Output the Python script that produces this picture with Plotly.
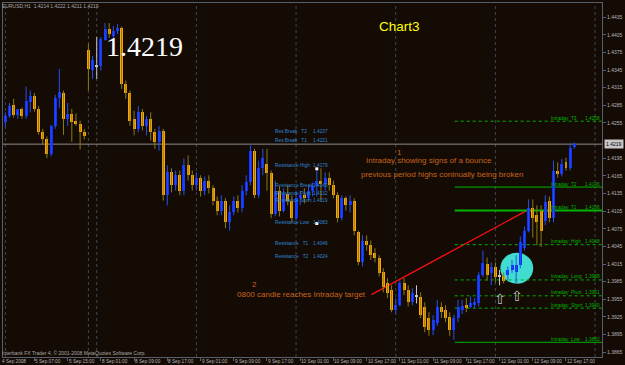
import plotly.graph_objects as go

# ---------------- data ----------------
time_label_bars = [0, 8, 16, 24, 32, 40, 48, 56, 64, 72, 80, 88, 96, 104, 112, 120, 128, 136]
time_labels = ["4 Sep 2008", "5 Sep 07:00", "5 Sep 15:00", "8 Sep 01:00", "8 Sep 09:00",
               "8 Sep 17:00", "9 Sep 01:00", "9 Sep 09:00", "9 Sep 17:00", "10 Sep 01:00",
               "10 Sep 09:00", "10 Sep 17:00", "11 Sep 01:00", "11 Sep 09:00", "11 Sep 17:00",
               "12 Sep 01:00", "12 Sep 09:00", "12 Sep 17:00"]
price_ticks = [1.3865, 1.3895, 1.3925, 1.3955, 1.3985, 1.4015, 1.4045, 1.4075, 1.4105,
               1.4135, 1.4165, 1.4195, 1.4255, 1.4285, 1.4315, 1.4345, 1.4375, 1.4405, 1.4435]
day_separator_bars = [1, 21, 23, 47, 71, 95, 119, 143]

open_ = [1.4256, 1.4256, 1.4267, 1.4286, 1.4269, 1.4278, 1.4267, 1.4291, 1.4301, 1.4279,
         1.4240, 1.4227, 1.4203, 1.4249, 1.4298, 1.4306, 1.4262, 1.4271, 1.4259, 1.4254,
         1.4240, 1.4379, 1.4345, 1.4352, 1.4352, 1.4396, 1.4415, 1.4403, 1.4412, 1.4417,
         1.4322, 1.4306, 1.4262, 1.4245, 1.4273, 1.4250, 1.4262, 1.4239, 1.4222, 1.4242,
         1.4132, 1.4171, 1.4149, 1.4166, 1.4140, 1.4183, 1.4166, 1.4149, 1.4161, 1.4140,
         1.4157, 1.4144, 1.4123, 1.4106, 1.4123, 1.4086, 1.4103, 1.4123, 1.4110, 1.4140,
         1.4154, 1.4208, 1.4132, 1.4179, 1.4185, 1.4170, 1.4101, 1.4140, 1.4106, 1.4135,
         1.4123, 1.4093, 1.4127, 1.4132, 1.4127, 1.4140, 1.4147, 1.4157, 1.4152, 1.4162,
         1.4149, 1.4132, 1.4094, 1.4127, 1.4115, 1.4123, 1.4069, 1.4018, 1.4055, 1.4047,
         1.4033, 1.4025, 1.4001, 1.3982, 1.3971, 1.3937, 1.3945, 1.3982, 1.3971, 1.3950,
         1.3960, 1.3959, 1.3942, 1.3923, 1.3903, 1.3915, 1.3942, 1.3937, 1.3925, 1.3903,
         1.3923, 1.3937, 1.3945, 1.3942, 1.3945, 1.3948, 1.3996, 1.4015, 1.3999, 1.4010,
         1.3995, 1.3994, 1.3996, 1.4005, 1.4001, 1.4013, 1.4043, 1.4072, 1.4110, 1.4099,
         1.4106, 1.4089, 1.4123, 1.4094, 1.4174, 1.4169, 1.4188, 1.4179, 1.4214]
high = [1.4266, 1.4273, 1.4289, 1.4296, 1.4274, 1.4281, 1.4317, 1.4310, 1.4306, 1.4284,
        1.4245, 1.4232, 1.4252, 1.4303, 1.4347, 1.4310, 1.4289, 1.4279, 1.4271, 1.4259,
        1.4245, 1.4390, 1.4369, 1.4401, 1.4401, 1.4425, 1.4425, 1.4420, 1.4423, 1.4419,
        1.4327, 1.4310, 1.4276, 1.4284, 1.4279, 1.4267, 1.4273, 1.4245, 1.4250, 1.4245,
        1.4183, 1.4178, 1.4174, 1.4174, 1.4195, 1.4200, 1.4174, 1.4171, 1.4166, 1.4164,
        1.4166, 1.4149, 1.4130, 1.4132, 1.4127, 1.4115, 1.4130, 1.4132, 1.4149, 1.4166,
        1.4217, 1.4211, 1.4191, 1.4211, 1.4211, 1.4174, 1.4157, 1.4147, 1.4144, 1.4149,
        1.4132, 1.4140, 1.4140, 1.4144, 1.4149, 1.4154, 1.4174, 1.4178, 1.4171, 1.4171,
        1.4157, 1.4137, 1.4132, 1.4130, 1.4132, 1.4127, 1.4072, 1.4064, 1.4064, 1.4055,
        1.4042, 1.4030, 1.4008, 1.3991, 1.3979, 1.3957, 1.3987, 1.3991, 1.3979, 1.3974,
        1.3979, 1.3967, 1.3950, 1.3933, 1.3928, 1.3954, 1.3950, 1.3945, 1.3933, 1.3929,
        1.3954, 1.3954, 1.3957, 1.3960, 1.3957, 1.4001, 1.4038, 1.4026, 1.4018, 1.4018,
        1.4005, 1.4001, 1.4011, 1.4022, 1.4030, 1.4062, 1.4079, 1.4125, 1.4125, 1.4115,
        1.4115, 1.4132, 1.4130, 1.4191, 1.4188, 1.4194, 1.4196, 1.4220, 1.4222]
low = [1.4252, 1.4249, 1.4264, 1.4264, 1.4262, 1.4262, 1.4262, 1.4273, 1.4274, 1.4235,
       1.4218, 1.4195, 1.4198, 1.4245, 1.4281, 1.4235, 1.4250, 1.4223, 1.4250, 1.4210,
       1.4227, 1.4310, 1.4330, 1.4330, 1.4344, 1.4395, 1.4400, 1.4398, 1.4406, 1.4313,
       1.4296, 1.4250, 1.4234, 1.4239, 1.4242, 1.4234, 1.4225, 1.4211, 1.4208, 1.4123,
       1.4115, 1.4137, 1.4140, 1.4132, 1.4132, 1.4157, 1.4140, 1.4140, 1.4130, 1.4132,
       1.4135, 1.4115, 1.4098, 1.4098, 1.4076, 1.4072, 1.4098, 1.4103, 1.4103, 1.4132,
       1.4149, 1.4127, 1.4127, 1.4166, 1.4140, 1.4093, 1.4096, 1.4096, 1.4103, 1.4115,
       1.4086, 1.4089, 1.4115, 1.4118, 1.4123, 1.4130, 1.4130, 1.4123, 1.4140, 1.4140,
       1.4127, 1.4086, 1.4089, 1.4106, 1.4103, 1.4064, 1.4013, 1.4011, 1.4038, 1.4022,
       1.4018, 1.3994, 1.3967, 1.3957, 1.3933, 1.3930, 1.3943, 1.3962, 1.3943, 1.3945,
       1.3948, 1.3923, 1.3899, 1.3893, 1.3894, 1.3910, 1.3923, 1.3916, 1.3893, 1.3886,
       1.3916, 1.3930, 1.3933, 1.3940, 1.3940, 1.3943, 1.3993, 1.3987, 1.3979, 1.3984,
       1.3979, 1.3982, 1.3987, 1.4000, 1.3982, 1.4008, 1.4038, 1.4069, 1.4060, 1.4047,
       1.4044, 1.4081, 1.4086, 1.4086, 1.4162, 1.4164, 1.4174, 1.4174, 1.4211]
close = [1.4262, 1.4267, 1.4284, 1.4269, 1.4279, 1.4267, 1.4293, 1.4301, 1.4279, 1.4239,
         1.4227, 1.4203, 1.4249, 1.4298, 1.4308, 1.4262, 1.4271, 1.4257, 1.4254, 1.4240,
         1.4232, 1.4347, 1.4362, 1.4352, 1.4398, 1.4415, 1.4406, 1.4412, 1.4417, 1.4322,
         1.4306, 1.4259, 1.4245, 1.4273, 1.4250, 1.4262, 1.4239, 1.4222, 1.4242, 1.4132,
         1.4171, 1.4149, 1.4166, 1.4140, 1.4183, 1.4166, 1.4149, 1.4161, 1.4140, 1.4157,
         1.4144, 1.4123, 1.4106, 1.4123, 1.4086, 1.4103, 1.4123, 1.4110, 1.4140, 1.4154,
         1.4208, 1.4132, 1.4179, 1.4196, 1.4170, 1.4101, 1.4140, 1.4106, 1.4135, 1.4123,
         1.4093, 1.4127, 1.4132, 1.4127, 1.4140, 1.4147, 1.4157, 1.4152, 1.4162, 1.4149,
         1.4132, 1.4094, 1.4127, 1.4115, 1.4123, 1.4072, 1.4018, 1.4055, 1.4047, 1.4030,
         1.4025, 1.3999, 1.3976, 1.3966, 1.3937, 1.3945, 1.3982, 1.3971, 1.3950, 1.3965,
         1.3960, 1.3928, 1.3908, 1.3903, 1.3920, 1.3942, 1.3933, 1.3923, 1.3903, 1.3923,
         1.3942, 1.3943, 1.3940, 1.3948, 1.3950, 1.3996, 1.4016, 1.3996, 1.4010, 1.3993,
         1.3995, 1.3987, 1.4005, 1.4013, 1.4013, 1.4052, 1.4072, 1.4110, 1.4094, 1.4086,
         1.4072, 1.4120, 1.4094, 1.4174, 1.4169, 1.4186, 1.4179, 1.4213, 1.4219]

intraday_names = ["Intraday  T3", "Intraday  T2", "Intraday  T1", "Intraday  High",
                  "Intraday  Long", "Intraday  Pivot", "Intraday  Short", "Intraday  Low"]
intraday_values = [1.4258, 1.4146, 1.4106, 1.4048, 1.3988, 1.3961, 1.3940, 1.3882]
intraday_start_bar = 109.2

res_names = ["Res Break   T2", "Res Break   T1", "Resistance High", "Resistance Break",
             "Resistance Pivot", "Resistance Short", "Resistance Low", "Resistance   T1",
             "Resistance   T2"]
res_values = [1.4237, 1.4221, 1.4179, 1.4145, 1.4132, 1.4119, 1.4083, 1.4046, 1.4024]

marker_bars = [76, 76]
marker_prices = [1.4177, 1.4084]

trend_bars = [89.15, 127.07]
trend_prices = [1.3963, 1.4108]

current_price = close[-1]

# ---------------- styling ----------------
BG = "#140B05"
FRAME = "#55606C"
BLUE_BODY = "#1030FF"
BLUE_WICK = "#2450F0"
ORANGE_BODY = "#FFA500"
ORANGE_WICK = "#8C7A10"
DOJI = "#C8C8C8"
GREEN = "#00B400"
RES_BLUE = "#2F86D0"
NOTE = "#C8641E"
AXIS_TXT = "#B4B4B4"

W, H = 625, 365
ML, MR, MT, MB = 3, 21, 2, 8
PX0 = 1.2
PXSTEP = 4.1667


def px2x(px):
    return (px - PX0) / PXSTEP


def pxx(px):  # paper x
    return (px - ML) / (W - ML - MR)


def pyy(py):  # paper y
    return 1 - (py - MT) / (H - MT - MB)


ymin = 1.446242 - 0.0001696 * 357
ymax = 1.446242 - 0.0001696 * 2

n = len(open_)
bars = list(range(n))

fig = go.Figure()

groups = {"up": ([], [], BLUE_WICK), "down": ([], [], ORANGE_WICK), "doji": ([], [], DOJI)}
body_base, body_h, body_col = [], [], []
min_h = 0.00018
for i in bars:
    o, h, l, c = open_[i], high[i], low[i], close[i]
    if c > o:
        key, col = "up", BLUE_BODY
    elif c < o:
        key, col = "down", ORANGE_BODY
    else:
        key, col = "doji", DOJI
    gx, gy, _ = groups[key]
    gx += [i, i, None]
    gy += [l, h, None]
    lo_b = min(o, c)
    hgt = abs(c - o)
    if hgt < min_h:
        lo_b = lo_b - (min_h - hgt) / 2
        hgt = min_h
    body_base.append(lo_b)
    body_h.append(hgt)
    body_col.append(col)

for key, (gx, gy, col) in groups.items():
    fig.add_trace(go.Scatter(x=gx, y=gy, mode="lines", line=dict(color=col, width=1),
                             hoverinfo="skip", showlegend=False))

fig.add_trace(go.Bar(x=bars, y=body_h, base=body_base, width=0.72,
                     marker=dict(color=body_col, line=dict(width=0)),
                     showlegend=False, hoverinfo="skip"))

fig.add_trace(go.Scatter(x=marker_bars, y=marker_prices, mode="markers",
                         marker=dict(symbol="square", size=3, color="#FFFFFF"),
                         showlegend=False, hoverinfo="skip"))

shapes = []
shapes.append(dict(type="circle", xref="x", yref="y", x0=px2x(502), x1=px2x(535),
                   y0=1.446242 - 0.0001696 * 283.5, y1=1.446242 - 0.0001696 * 252.5,
                   fillcolor="#40DCD0", line=dict(width=0), layer="below"))
for b in day_separator_bars:
    shapes.append(dict(type="line", xref="x", yref="paper", x0=b, x1=b, y0=0, y1=1,
                       line=dict(color="#3C4856", width=1, dash="dot"), layer="below"))
shapes.append(dict(type="line", xref="paper", yref="y", x0=0, x1=1, y0=current_price,
                   y1=current_price, line=dict(color="#8C8C8C", width=1), layer="below"))
shapes.append(dict(type="line", xref="x", yref="y", x0=trend_bars[0], x1=trend_bars[1],
                   y0=trend_prices[0], y1=trend_prices[1],
                   line=dict(color="#FF1010", width=1.3), layer="below"))
intraday_dash = ["dot", "solid", "solid", "dot", "dot", "dot", "dot", "solid"]
intraday_width = [1, 1, 2, 1, 1, 1, 1, 1]
for v, d, wd in zip(intraday_values, intraday_dash, intraday_width):
    shapes.append(dict(type="line", xref="x", yref="y", x0=intraday_start_bar, x1=px2x(604),
                       y0=v, y1=v, line=dict(color=GREEN, width=wd, dash=d), layer="below"))

ann = []


def pann(px, py, text, size, color, xanchor="center", yanchor="middle",
         family="Liberation Sans", **kw):
    d = dict(xref="paper", yref="paper", x=pxx(px), y=pyy(py), text=text, showarrow=False,
             font=dict(size=size, color=color, family=family), xanchor=xanchor,
             yanchor=yanchor, borderpad=0)
    d.update(kw)
    ann.append(d)


pann(1, 5.5, "EURUSD,H1  1.4214 1.4222 1.4211 1.4219", 5, "#A8A8A8", xanchor="left")
pann(1, 352.5, "Interbank FX Trader 4, \u00a9 2001-2008 MetaQuotes Software Corp.", 5,
     "#A8A8A8", xanchor="left")

for b, t in zip(time_label_bars, time_labels):
    px = PX0 + PXSTEP * b
    pann(px, 362, t, 4.7, AXIS_TXT, xanchor="left")

pann(144.5, 46, "1.4219", 28, "#FFFFFF", family="Liberation Serif")
pann(401, 26, "Chart3", 13.5, "#FFFF00")

pann(401, 151.5, "1", 8, NOTE)
pann(430, 160, "Intraday showing signs of a bounce", 8, NOTE)
pann(443, 174, "previous period highs coninually being broken", 8, NOTE)
pann(255, 284.5, "2", 8, NOTE)
pann(302.5, 294, "0800 candle reaches Intraday target", 8, NOTE)

pann(501.7, 298.5, "\u21e7", 14, "#C0C0C0", family="DejaVu Sans")
pann(518.3, 295.5, "\u21e7", 14, "#C0C0C0", family="DejaVu Sans")

for name, v in zip(res_names, res_values):
    py = (1.446242 - v) / 0.0001696 - 2
    pann(275, py, name, 4.8, RES_BLUE, xanchor="left")
    pann(313, py, "%.4f" % v, 4.8, RES_BLUE, xanchor="left")

for name, v in zip(intraday_names, intraday_values):
    py = (1.446242 - v) / 0.0001696 - 3
    pann(552, py, name, 4.8, GREEN, xanchor="left")
    pann(603, py, "%.4f" % v, 4.8, GREEN, xanchor="right")

ann.append(dict(xref="paper", yref="y", x=pxx(606), y=current_price, text="%.4f" % current_price,
                showarrow=False, xanchor="left", yanchor="middle",
                font=dict(size=5, color="#000000", family="Liberation Sans"),
                bgcolor="#C8C8C8", borderpad=1))

fig.update_layout(
    width=W, height=H,
    margin=dict(l=ML, r=MR, t=MT, b=MB, pad=0),
    paper_bgcolor=BG, plot_bgcolor=BG,
    showlegend=False,
    shapes=shapes, annotations=ann,
    bargap=0,
    xaxis=dict(range=[px2x(3), px2x(604)], showgrid=False, zeroline=False,
               showline=True, linecolor=FRAME, linewidth=1, mirror=True,
               tickvals=time_label_bars, ticks="outside", ticklen=3, tickcolor=FRAME,
               showticklabels=False, fixedrange=True),
    yaxis=dict(range=[ymin, ymax], side="right", showgrid=False, zeroline=False,
               showline=True, linecolor=FRAME, linewidth=1, mirror=True,
               tickvals=price_ticks, ticktext=["%.4f" % v for v in price_ticks],
               ticks="outside", ticklen=3, tickcolor=FRAME,
               tickfont=dict(size=5, color=AXIS_TXT, family="Liberation Sans"),
               fixedrange=True),
)

fig.write_html("out.html")
